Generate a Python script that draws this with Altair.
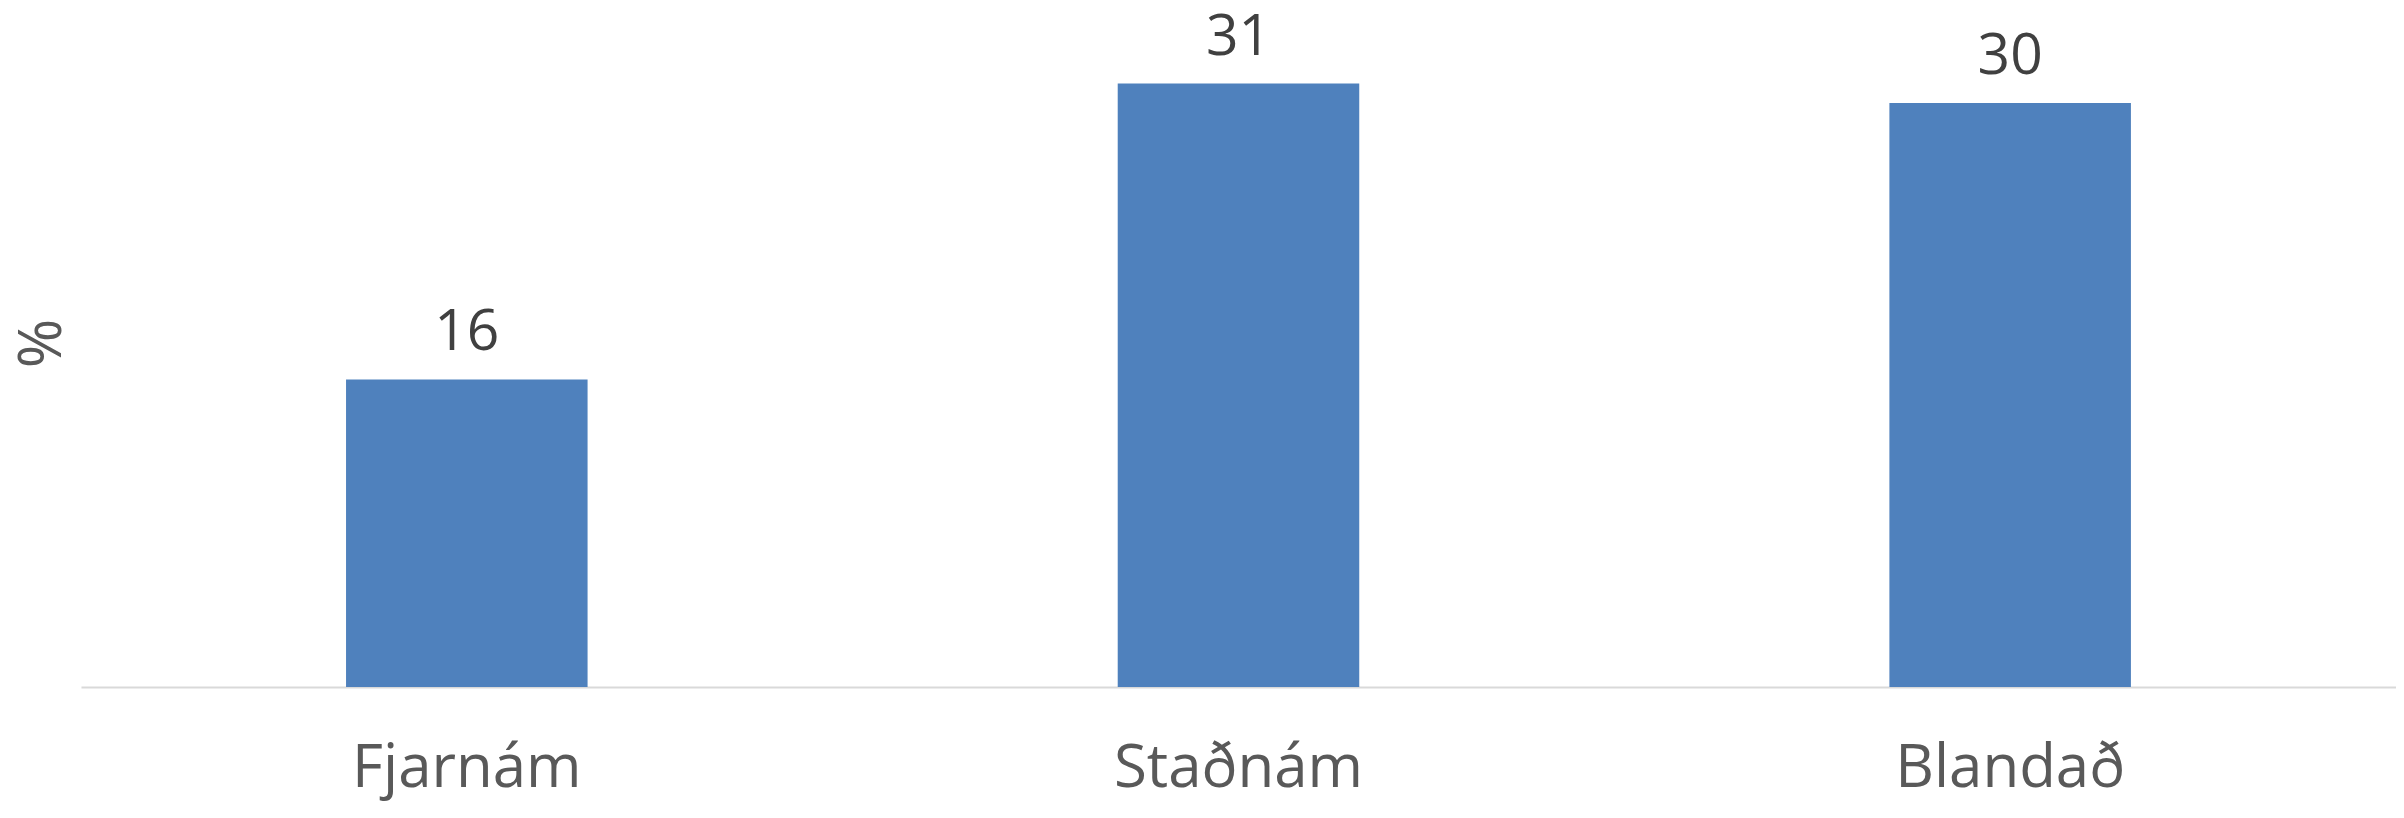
import altair as alt
import pandas as pd

categories = ["Fjarnám", "Staðnám", "Blandað"]
values = [15.8, 31.0, 30.0]

df = pd.DataFrame({"cat": categories, "val": values})

FONT = "Open Sans"

base = alt.Chart(df).encode(
    x=alt.X(
        "cat:N",
        sort=categories,
        scale=alt.Scale(paddingInner=0.687, paddingOuter=0.3435),
        axis=alt.Axis(
            title=None,
            labelAngle=0,
            labelFont=FONT,
            labelFontSize=60,
            labelColor="#595959",
            labelPadding=100,
            labelBaseline="alphabetic",
            labelLimit=0,
            ticks=False,
            tickSize=0,
            domainColor="#D9D9D9",
            domainWidth=2,
        ),
    ),
    y=alt.Y(
        "val:Q",
        scale=alt.Scale(domain=[0, 34], nice=False, zero=True),
        axis=alt.Axis(
            title="%",
            grid=False,
            labels=False,
            ticks=False,
            domain=False,
            titleFont=FONT,
            titleFontSize=60,
            titleColor="#595959",
            titleFontWeight="normal",
            titleAngle=270,
            titleX=-20,
            titleY=318,
            titleAlign="center",
            titleBaseline="alphabetic",
        ),
    ),
)

bars = base.mark_bar(color="#4F81BD")
text = base.mark_text(
    dy=-29, baseline="alphabetic", font=FONT, fontSize=57, color="#404040"
).encode(text=alt.Text("val:Q", format=".0f"))

chart = (
    (bars + text)
    .properties(
        width=2316,
        height=662,
        padding={"left": 73, "top": 17, "right": 0, "bottom": 120},
        autosize=alt.AutoSizeParams(type="none"),
    )
    .configure_view(stroke=None)
)

chart.save("out.html", embed_options={"renderer": "svg", "actions": False})
